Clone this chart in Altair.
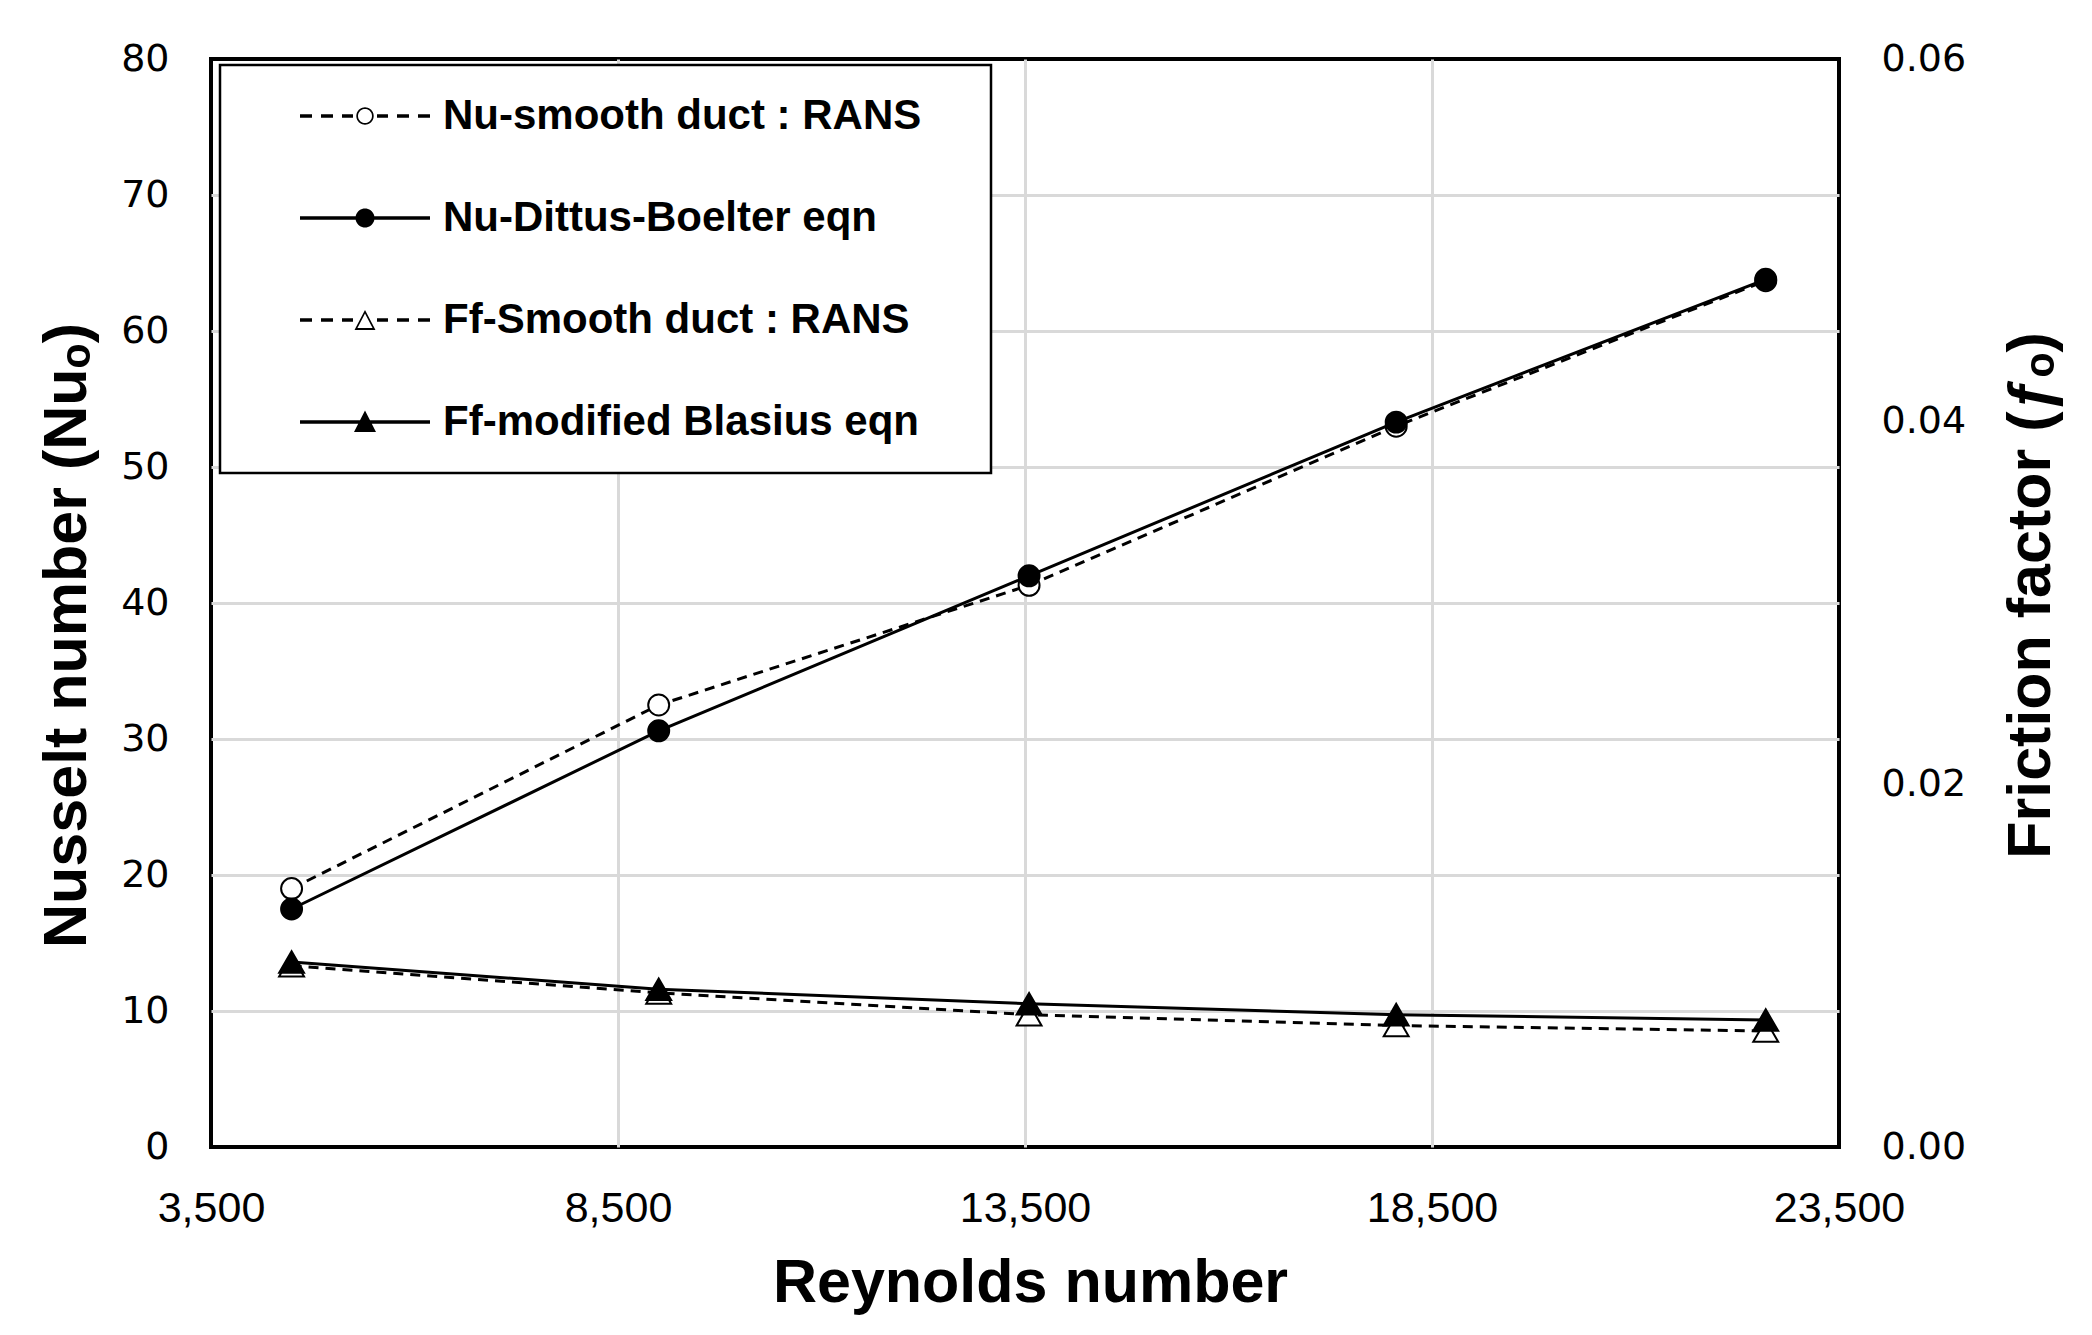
import math
import altair as alt
import pandas as pd

# ---------------- data ----------------
reynolds = [4490, 9000, 13550, 18060, 22600]
nu_rans = [19.0, 32.5, 41.3, 53.0, 63.7]
nu_dittus = [17.5, 30.6, 42.0, 53.3, 63.8]
ff_rans = [0.0100, 0.0085, 0.0073, 0.0067, 0.0064]
ff_blasius = [0.0102, 0.0087, 0.0079, 0.0073, 0.0070]

series_names = [
    "Nu-smooth duct : RANS",
    "Nu-Dittus-Boelter eqn",
    "Ff-Smooth duct : RANS",
    "Ff-modified Blasius eqn",
]
x_ticks = [3500, 8500, 13500, 18500, 23500]
nu_ticks = [0, 10, 20, 30, 40, 50, 60, 70, 80]
ff_ticks = [0.0, 0.02, 0.04, 0.06]

# ---------------- legend symbol paths (line + marker) ----------------
LEG_FONT = 42
U = LEG_FONT / 2.0  # px per unit of a custom symbol path (sqrt(size)/2)
C = 94.0            # marker centre, px right of the symbol anchor


def pt(x, y):
    return f"{x / U:.4f},{y / U:.4f}"


def poly(points):
    return "M" + "L".join(pt(x, y) for x, y in points) + "Z"


def rect(x0, x1, h=1.8):
    return poly([(x0, -h), (x1, -h), (x1, h), (x0, h)])


def circle(cx, r, rev=False, n=40):
    p = [(cx + r * math.cos(2 * math.pi * i / n), r * math.sin(2 * math.pi * i / n)) for i in range(n)]
    return poly(p[::-1] if rev else p)


def triangle(cx, top, base, hw, rev=False, k=1.0):
    icy = base - (base - top) * 0.36
    p = [(cx, top), (cx + hw, base), (cx - hw, base)]
    p = [(cx + (x - cx) * k, icy + (y - icy) * k) for x, y in p]
    return poly(p[::-1] if rev else p)


dash_spans = [(-65, -53), (-44, -32), (-23, -12), (12, 23), (32, 44), (53, 65)]
dashes = "".join(rect(C + a, C + b) for a, b in dash_spans)
solid = rect(C - 65, C + 65)
legend_paths = [
    dashes + circle(C, 8.7) + circle(C, 7.0, rev=True),
    solid + circle(C, 9.5),
    dashes + triangle(C, -10, 10, 10.5) + triangle(C, -10, 10, 10.5, rev=True, k=0.72),
    solid + triangle(C, -11.5, 10, 11),
]

# ---------------- tables ----------------
nu_rans_df = pd.DataFrame({"Re": reynolds, "Nu": nu_rans})
nu_dittus_df = pd.DataFrame({"Re": reynolds, "Nu": nu_dittus})
ff_rans_df = pd.DataFrame({"Re": reynolds, "ff": ff_rans})
ff_blasius_df = pd.DataFrame({"Re": reynolds, "ff": ff_blasius})
legend_df = pd.DataFrame({"series": series_names})

TITLE_FONT = "Liberation Sans"
TITLE_SIZE = 61
GRID = "#d9d9d9"

x_grid_op = {"condition": {"test": "datum.value <= 3500 || datum.value >= 23500", "value": 0}, "value": 1}
y_grid_op = {"condition": {"test": "datum.value <= 0 || datum.value >= 80", "value": 0}, "value": 1}

x_enc = alt.X(
    "Re:Q",
    scale=alt.Scale(domain=[3500, 23500], nice=False, zero=False),
    axis=alt.Axis(
        values=x_ticks, format=",d", title="Reynolds number",
        labelFont="Liberation Sans", labelFontSize=43, labelPadding=40,
        labelFlush=False, labelOverlap=False,
        titleX=819, titleY=136, titleAlign="center", titleBaseline="middle",
        grid=True, gridOpacity=x_grid_op,
    ),
)

nu_y = alt.Y(
    "Nu:Q",
    scale=alt.Scale(domain=[0, 80], nice=False),
    axis=alt.Axis(
        orient="left", values=nu_ticks, format="d",
        title="Nusselt number (Nuₒ)",
        labelFont="DejaVu Sans", labelFontSize=38, labelPadding=42,
        labelFlush=False, labelOverlap=False,
        titleX=-144, titleY=576, titleAngle=270, titleAlign="center", titleBaseline="middle",
        grid=True, gridOpacity=y_grid_op,
    ),
)

ff_y = alt.Y(
    "ff:Q",
    scale=alt.Scale(domain=[0, 0.06], nice=False),
    axis=alt.Axis(
        orient="right", values=ff_ticks, format=".2f",
        title="Friction factor (ƒₒ)",
        labelFont="DejaVu Sans", labelFontSize=38, labelPadding=42,
        labelFlush=False, labelOverlap=False,
        titleX=192, titleY=536, titleAngle=270, titleAlign="center", titleBaseline="middle",
        grid=False,
    ),
)


def line(df, y, dashed):
    kw = dict(color="black", strokeWidth=3)
    if dashed:
        kw["strokeDash"] = [10, 7]
    return alt.Chart(df).mark_line(**kw).encode(x=x_enc, y=y)


def points(df, y, shape, fill, size):
    return alt.Chart(df).mark_point(
        shape=shape, size=size, filled=True, fill=fill, stroke="black",
        strokeWidth=2, opacity=1,
    ).encode(x=x_enc, y=y)


legend_layer = (
    alt.Chart(legend_df)
    .transform_filter("false")
    .mark_point(filled=True, color="black", opacity=1)
    .encode(
        shape=alt.Shape(
            "series:N",
            scale=alt.Scale(domain=series_names, range=legend_paths),
            legend=alt.Legend(
                orient="none", legendX=9, legendY=6, padding=30,
                strokeColor="black", fillColor="white",
                title=" ", titleOrient="right", titlePadding=40, titleFontSize=10,
                labelFont=TITLE_FONT, labelFontSize=LEG_FONT, labelFontWeight="bold",
                labelColor="black", labelOffset=151, labelLimit=1000,
                symbolSize=LEG_FONT * LEG_FONT, symbolStrokeWidth=0, symbolFillColor="black",
                symbolOpacity=1, rowPadding=60,
            ),
        )
    )
)

nu_group = alt.layer(
    line(nu_rans_df, nu_y, True),
    points(nu_rans_df, nu_y, "circle", "white", 440),
    line(nu_dittus_df, nu_y, False),
    points(nu_dittus_df, nu_y, "circle", "black", 440),
    legend_layer,
)

ff_group = alt.layer(
    line(ff_rans_df, ff_y, True),
    points(ff_rans_df, ff_y, "triangle-up", "white", 620),
    line(ff_blasius_df, ff_y, False),
    points(ff_blasius_df, ff_y, "triangle-up", "black", 620),
)

chart = (
    alt.layer(nu_group, ff_group)
    .resolve_scale(y="independent")
    .properties(
        width=1628,
        height=1088,
        padding={"left": 203, "top": 51, "right": 240, "bottom": 176},
        autosize=alt.AutoSizeParams(type="none"),
        background="white",
    )
    .configure_view(stroke="black", strokeWidth=4)
    .configure_axis(
        ticks=False, domain=False, labelColor="black",
        gridColor=GRID, gridWidth=3,
        titleFont=TITLE_FONT, titleFontSize=TITLE_SIZE, titleFontWeight="bold",
        titleColor="black",
    )
    .configure_legend(strokeWidth=2.5)
)

chart.save("out.html", embed_options={"renderer": "svg", "actions": False})
